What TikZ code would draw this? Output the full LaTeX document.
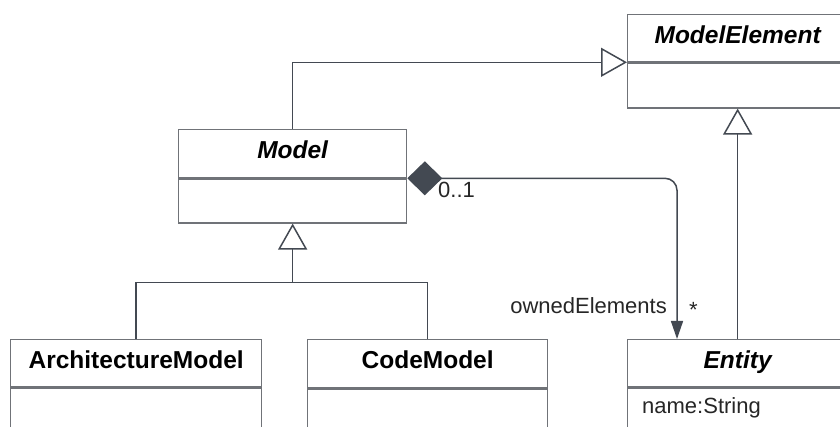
\documentclass[tikz,border=0pt]{standalone}
\usepackage{fontspec}
\setmainfont{Liberation Sans}
\usetikzlibrary{positioning,arrows.meta}
\definecolor{umlbox}{HTML}{707378}
\definecolor{umlline}{HTML}{434952}

\begin{document}
\begin{tikzpicture}[x=1pt, y=-1pt,
    classname/.style={draw=umlbox, line width=1.3pt, anchor=north west, inner sep=0pt,
        text height=17.5pt, text depth=7pt, font=\fontsize{24.5}{29}\selectfont\bfseries},
    abstract/.style={classname, font=\fontsize{24.5}{29}\selectfont\bfseries\itshape},
    classbody/.style={draw=umlbox, line width=1.3pt, inner sep=0pt},
    lbl/.style={inner sep=0pt, text=black!85, font=\fontsize{22}{26}\selectfont},
    link/.style={draw=umlline, line width=1.5pt},
    inherit/.style={link, -{Triangle[open, width=29pt, length=26pt]}}]
    \useasboundingbox (0,0) rectangle (840,427);
    % classes: name compartment, then an empty or attribute compartment
    \node[abstract, minimum width=220pt, minimum height=47pt] (modelelem) at (627,14) {ModelElement};
    \node[classbody, minimum width=220pt, minimum height=45pt, below=0pt of modelelem] (modelelem-body) {};
    \node[abstract, minimum width=228pt, minimum height=48pt] (model) at (178,129) {Model};
    \node[classbody, minimum width=228pt, minimum height=44pt, below=0pt of model] (model-body) {};
    \node[classname, minimum width=251pt, minimum height=47pt] (archmodel) at (10,339) {ArchitectureModel};
    \node[classbody, minimum width=251pt, minimum height=60pt, below=0pt of archmodel] (archmodel-body) {};
    \node[classname, minimum width=240pt, minimum height=48pt] (codemodel) at (307,339) {CodeModel};
    \node[classbody, minimum width=240pt, minimum height=60pt, below=0pt of codemodel] (codemodel-body) {};
    \node[abstract, minimum width=220pt, minimum height=47pt] (entity) at (627,339) {Entity};
    \node[classbody, minimum width=220pt, minimum height=60pt, below=0pt of entity] (entity-body) {};
    \node[lbl, anchor=base west] (entity-name) at (642,413) {name:String};

    % generalisations
    \draw[inherit] (model.north) |- (modelelem.south west);
    \draw[inherit] (entity.north) -- (modelelem-body.south);
    \coordinate[below=59pt of model-body.south] (fork);
    \draw[link] (archmodel.north) |- (fork) -| (codemodel.north);
    \draw[inherit] (fork) -- (model-body.south);

    % composition Model <>-- Entity
    \draw[link, rounded corners=12pt, {Diamond[fill=umlline, width=34pt, length=35pt]}-{Triangle[width=12pt, length=18pt]}]
        (model-body.north east) -| ([xshift=50pt]entity.north west);
    \node[lbl, anchor=north west] (owner-mult) at (438,182) {0..1};
    \node[lbl, anchor=base east] (owned-role) at (667,314) {ownedElements};
    \node[lbl, anchor=base west] (owned-mult) at (689,318) {*};
\end{tikzpicture}
\end{document}
